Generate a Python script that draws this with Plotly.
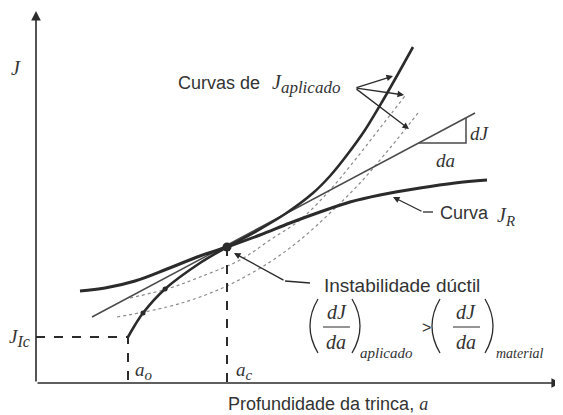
import plotly.graph_objects as go

# ---- data (a = crack depth, J) in arbitrary schematic units ----
a_applied = [92, 99, 107, 129, 164, 191, 219, 249, 277, 294, 311, 329, 346, 362, 377]
J_applied = [46, 58, 70, 94, 120, 136, 151, 169, 190, 207, 228, 253, 281, 309, 336]

a_applied2 = [94, 134, 164, 204, 234, 264, 294, 319, 344, 369]
J_applied2 = [85, 95, 106, 123, 143, 163, 193, 223, 255, 287]

a_applied3 = [81, 131, 164, 197, 234, 264, 294, 324, 354, 382]
J_applied3 = [66, 76, 86, 100, 121, 143, 170, 200, 235, 270]

a_JR = [44, 69, 99, 131, 164, 191, 224, 254, 284, 314, 344, 384, 419, 451]
J_JR = [92, 95, 102, 114, 127, 136, 148, 160, 171, 181, 188, 195, 200, 203]

a_tangent = [56, 439]
J_tangent = [66, 270]

a_o, a_c = 92, 191
J_Ic, J_c = 46, 136
a_marks = [107, 129]
J_marks = [70, 94]

# slope triangle
tri_a = [383, 430, 430]
tri_J = [240, 240, 265]

DARK = "#2b2b2b"
SANS = "Liberation Sans"
SERIF = "Liberation Serif"

fig = go.Figure()

for xa, yj in [(a_applied2, J_applied2), (a_applied3, J_applied3)]:
    fig.add_trace(go.Scatter(x=xa, y=yj, mode="lines", line_shape="spline",
                             line=dict(color="#8a8a8a", width=1.2, dash="dot")))
fig.add_trace(go.Scatter(x=a_tangent, y=J_tangent, mode="lines",
                         line=dict(color="#4a4a4a", width=1.5)))
fig.add_trace(go.Scatter(x=tri_a, y=tri_J, mode="lines",
                         line=dict(color="#4a4a4a", width=1.5)))
fig.add_trace(go.Scatter(x=a_JR, y=J_JR, mode="lines", line_shape="spline",
                         line=dict(color=DARK, width=3)))
fig.add_trace(go.Scatter(x=a_applied, y=J_applied, mode="lines", line_shape="spline",
                         line=dict(color=DARK, width=2.6, smoothing=0.8)))
fig.add_trace(go.Scatter(x=[0, a_o, a_o], y=[J_Ic, J_Ic, 0], mode="lines",
                         line=dict(color=DARK, width=2, dash="dash")))
fig.add_trace(go.Scatter(x=[a_c, a_c], y=[J_c, 0], mode="lines",
                         line=dict(color=DARK, width=2, dash="dash")))
fig.add_trace(go.Scatter(x=a_marks, y=J_marks, mode="markers",
                         marker=dict(color=DARK, size=5)))
fig.add_trace(go.Scatter(x=[a_c], y=[J_c], mode="markers",
                         marker=dict(color=DARK, size=9)))
# bent leader lines
fig.add_trace(go.Scatter(x=[397, 387], y=[171, 171], mode="lines",
                         line=dict(color=DARK, width=1.3)))
fig.add_trace(go.Scatter(x=[274, 249], y=[100, 102], mode="lines",
                         line=dict(color=DARK, width=1.3)))
# fraction bars
fig.add_trace(go.Scatter(x=[287, 314], y=[56, 56], mode="lines", line=dict(color=DARK, width=1)))
fig.add_trace(go.Scatter(x=[417, 444], y=[56, 56], mode="lines", line=dict(color=DARK, width=1)))

anns = []
def arrow(x, y, ax, ay, w=1.3, size=1.0):
    anns.append(dict(x=x, y=y, ax=ax, ay=ay, xref="x", yref="y", axref="x", ayref="y",
                     text="", showarrow=True, arrowhead=2, arrowsize=size,
                     arrowwidth=w, arrowcolor=DARK))

arrow(0, 372, 0, 0, w=1.6, size=1.2)
arrow(525, 0, 0, 0, w=1.6, size=1.2)
arrow(357, 307, 319, 295)
arrow(368, 288, 319, 295)
arrow(373, 254, 319, 295)
arrow(357, 186, 387, 171)
arrow(198, 130, 249, 102)

def txt(x, y, s, size=18, family=SANS, xanchor="center", color="#333"):
    anns.append(dict(x=x, y=y, xref="x", yref="y", text=s, showarrow=False,
                     xanchor=xanchor, yanchor="middle",
                     font=dict(family=family, size=size, color=color)))

def sub(s, px):
    return f"<sub><span style='font-size:{px}px'><i>{s}</i></span></sub>"

txt(-20, 315, "<i>J</i>", 20, SERIF)
txt(-17, 45, "<i>J</i>" + sub("Ic", 16), 19, SERIF)
txt(108, 12, "<i>a</i>" + sub("o", 15), 19, SERIF)
txt(208, 12, "<i>a</i>" + sub("c", 15), 19, SERIF)
txt(183, 300, "Curvas de", 18)
txt(234, 299, "<i>J</i>" + sub("aplicado", 17), 20, SERIF, xanchor="left")
txt(444, 250, "<i>dJ</i>", 19, SERIF)
txt(409, 223, "<i>da</i>", 19, SERIF)
txt(402, 170, "Curva", 18, xanchor="left")
txt(459, 167, "<i>J</i>" + sub("R", 15), 20, SERIF, xanchor="left")
txt(366, 98, "Instabilidade dúctil", 19)
txt(301, 71, "<i>dJ</i>", 20, SERIF)
txt(300, 41, "<i>da</i>", 20, SERIF)
txt(350, 30, "<i>aplicado</i>", 15, SERIF)
txt(390, 56, "&gt;", 16)
txt(430, 71, "<i>dJ</i>", 20, SERIF)
txt(430, 41, "<i>da</i>", 20, SERIF)
txt(484, 30, "<i>material</i>", 14, SERIF)
txt(292, -21, "Profundidade da trinca, <span style='font-family:Liberation Serif'><i>a</i></span>", 18)

# parentheses of the formula
shapes = []
for x_end, x_ctrl in [(282, 266), (316, 332), (404, 388), (449, 465)]:
    shapes.append(dict(type="path", xref="x", yref="y",
                       path=f"M {x_end},84 Q {x_ctrl},57 {x_end},30",
                       line=dict(color=DARK, width=1.3)))

fig.update_layout(
    width=555, height=407, margin=dict(l=0, r=0, t=0, b=0),
    paper_bgcolor="white", plot_bgcolor="white", showlegend=False,
    xaxis=dict(range=[-28, 527], visible=False, fixedrange=True),
    yaxis=dict(range=[-32, 375], visible=False, fixedrange=True),
    annotations=anns, shapes=shapes,
)
fig.write_html("out.html")
